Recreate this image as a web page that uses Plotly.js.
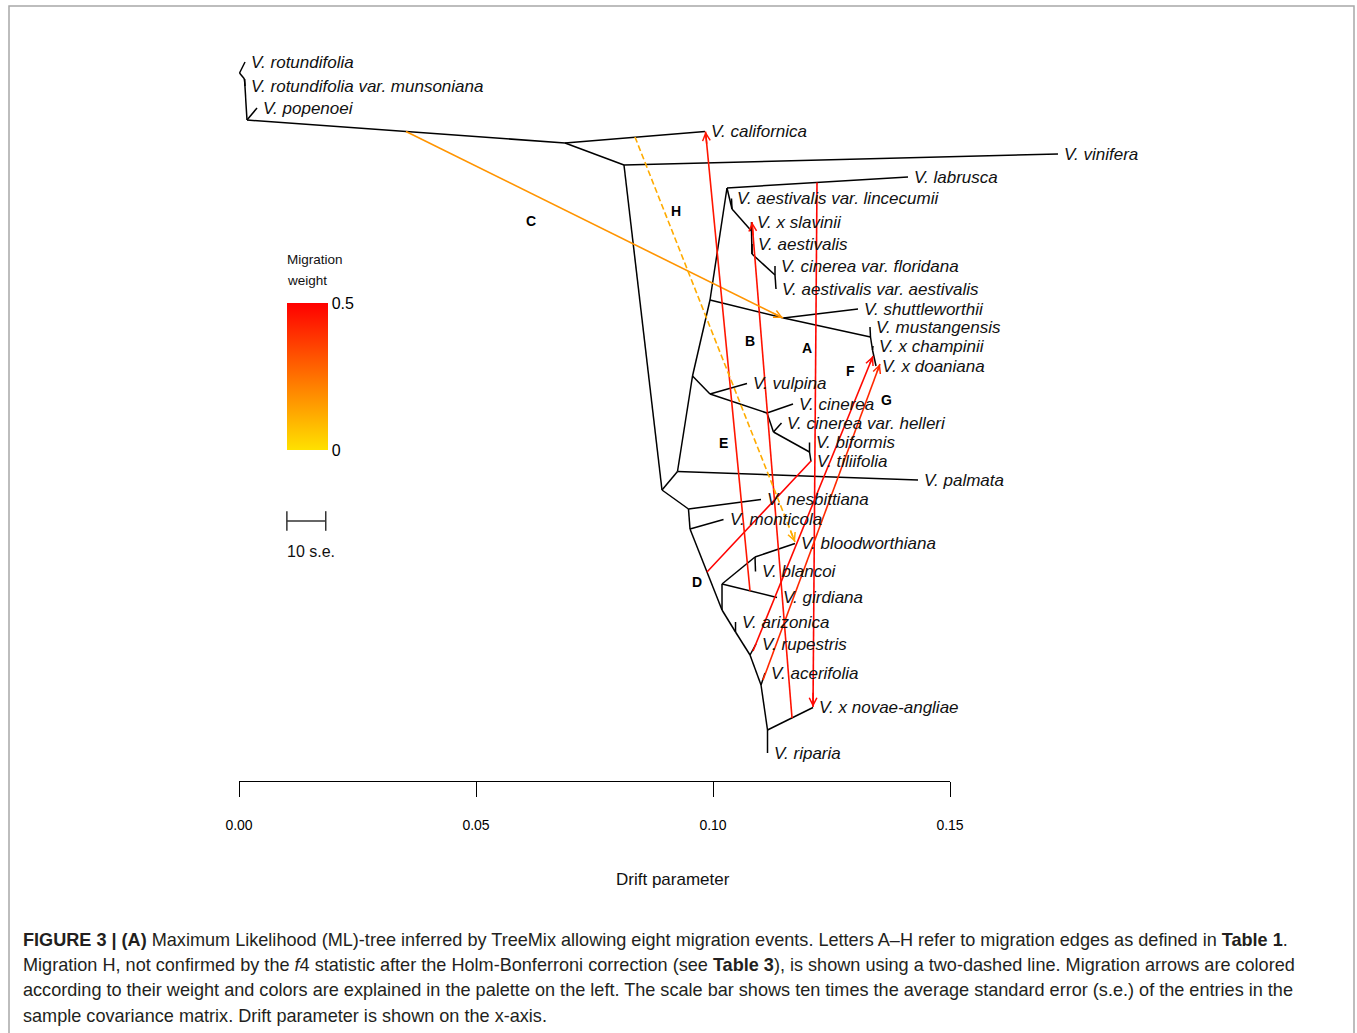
<!DOCTYPE html>
<html><head><meta charset="utf-8">
<script src="https://cdn.plot.ly/plotly-3.0.1.min.js"></script>
<style>html,body{margin:0;padding:0;background:#fff}#chart{width:1357px;height:1033px}</style>
</head><body><div id="chart"></div>
<script>
// ---------- DATA ----------
// internal tree nodes: drift (x) and vertical layout position (y)
const internalIds   = ['n1','n2','n3','root','n4','nE','nP','nV0','nS','nL','A1','A2','A3','A4','nSh','M0','M1','V1','V2','V3','V4','B0','B1','B2','B3','B4','B5','B6','B7','B8'];
const internalDrift = [0.00169,0.00116,0.00011,0.06878,0.08122,0.08924,0.09251,0.09568,0.09937,0.10295,0.10401,0.10812,0.10823,0.11308,0.11487,0.13323,0.13365,0.09937,0.11139,0.11276,0.12036,0.09483,0.09515,0.10190,0.10190,0.10886,0.10475,0.10781,0.11013,0.11150];
const internalY     = [120,79,73,143,165,490,471.5,376,300,188,209,231,254,275,318,337,350,394,413,432,452,509,529,610,584,557,632,655,685,730];

// leaves (populations)
const leafIds    = ['rotundifolia','munsoniana','popenoei','californica','vinifera','labrusca','lincecumii','slavinii','aestivalis','floridana','aestvar','shuttleworthii','mustangensis','champinii','doaniana','vulpina','cinerea','helleri','biformis','tiliifolia','palmata','nesbittiana','monticola','bloodworthiana','blancoi','girdiana','arizonica','rupestris','acerifolia','novaeangliae','riparia'];
const leafLabels = ['V. rotundifolia','V. rotundifolia var. munsoniana','V. popenoei','V. californica','V. vinifera','V. labrusca','V. aestivalis var. lincecumii','V. x slavinii','V. aestivalis','V. cinerea var. floridana','V. aestivalis var. aestivalis','V. shuttleworthii','V. mustangensis','V. x champinii','V. x doaniana','V. vulpina','V. cinerea','V. cinerea var. helleri','V. biformis','V. tiliifolia','V. palmata','V. nesbittiana','V. monticola','V. bloodworthiana','V. blancoi','V. girdiana','V. arizonica','V. rupestris','V. acerifolia','V. x novae-angliae','V. riparia'];
const leafDrift  = [0.00127,0.00127,0.0038,0.09831,0.17278,0.14114,0.10390,0.10812,0.10823,0.11308,0.11329,0.13059,0.13312,0.13376,0.13439,0.10717,0.11688,0.11445,0.12036,0.12068,0.14325,0.11013,0.10222,0.11730,0.10897,0.11350,0.10475,0.10907,0.11097,0.12110,0.11150];
const leafY      = [62,86,108,131.5,154,177,198.5,222,244,266,289,309,327,346,366,383.5,404,423,442.5,461.5,480,499.5,519.5,543.5,571.5,597.5,622,644,673,707.5,753];

// tree edges (parent -> child)
const edgeParent = ['root','n1','n1','n2','n2','n3','root','root','n4','n4','nE','nE','nP','nP','nV0','nV0','nS','nS','nL','nL','A1','A1','A2','A2','A3','A3','A4','A4','nSh','nSh','M0','M0','M1','M1','V1','V1','V2','V2','V3','V3','V4','V4','B0','B0','B1','B1','B2','B3','B4','B4','B3','B2','B5','B5','B6','B6','B7','B7','B8','B8'];
const edgeChild  = ['n1','popenoei','n2','munsoniana','n3','rotundifolia','californica','n4','vinifera','nE','nP','B0','palmata','nV0','V1','nS','nL','nSh','labrusca','A1','lincecumii','A2','slavinii','A3','aestivalis','A4','floridana','aestvar','shuttleworthii','M0','mustangensis','M1','champinii','doaniana','vulpina','V2','cinerea','V3','helleri','V4','biformis','tiliifolia','nesbittiana','B1','monticola','B2','B3','B4','bloodworthiana','blancoi','girdiana','B5','arizonica','B6','rupestris','B7','acerifolia','B8','novaeangliae','riparia'];

// migration edges
const migLetter    = ['A','B','C','D','E','F','G','H'];
const migFromDrift = [0.12194,0.11667,0.03523,0.09873,0.10781,0.10844,0.11055,0.08354];
const migFromY     = [182.5,718,131.5,572,591,651,680,137];
const migToDrift   = [0.12110,0.10823,0.11477,0.12068,0.09842,0.13376,0.13523,0.11730];
const migToY       = [707,222,318,461,131.5,356,364,542];
const migWeight    = [0.49,0.46,0.17,0.50,0.45,0.48,0.41,0.12];
const migDashed    = [false,false,false,false,false,false,false,true];
const migLabelDrift= [0.1198,0.1078,0.0616,0.0966,0.1023,0.1291,0.1367,0.0922];
const migLabelY    = [348,341,221,582,443,371,400,211];

// axis ticks and scale bar
const tickVals   = [0,0.05,0.10,0.15];
const tickLabels = ['0.00','0.05','0.10','0.15'];
const weightTicks = [0,0.5];
const weightTickLabels = ['0','0.5'];
const scaleBarStart = 0.0101, scaleBarLength = 0.0082, scaleBarY = 521;

// ---------- BUILD ----------
const W=1357,H=1033;
const FONT='Liberation Sans, Arial, Helvetica, sans-serif';
const xRange=[-239/4740,(W-239)/4740];

function weightColor(w){const t=Math.max(0,Math.min(1,w/0.5));return 'rgb(255,'+Math.round(225*(1-t))+',0)';}

const nodes={};
internalIds.forEach((id,i)=>nodes[id]={x:internalDrift[i],y:internalY[i]});
leafIds.forEach((id,i)=>nodes[id]={x:leafDrift[i],y:leafY[i]});
const tx=[],ty=[];
edgeParent.forEach((p,i)=>{const a=nodes[p],b=nodes[edgeChild[i]];tx.push(a.x,b.x,null);ty.push(a.y,b.y,null);});

const traces=[];
traces.push({type:'scatter',mode:'lines',x:tx,y:ty,line:{color:'#000',width:1.5},hoverinfo:'skip',showlegend:false});

const annotations=[];
migLetter.forEach((L,i)=>{
  const c=weightColor(migWeight[i]);
  traces.push({type:'scatter',mode:'lines',x:[migFromDrift[i],migToDrift[i]],y:[migFromY[i],migToY[i]],
    line:{color:c,width:1.6,dash:migDashed[i]?'6px,3px':'solid'},hoverinfo:'skip',showlegend:false});
  annotations.push({x:migToDrift[i],y:migToY[i],xref:'x',yref:'y',
    ax:migToDrift[i]-0.03*(migToDrift[i]-migFromDrift[i]),ay:migToY[i]-0.03*(migToY[i]-migFromY[i]),
    axref:'x',ayref:'y',text:'',showarrow:true,arrowhead:5,arrowsize:1,arrowwidth:1.5,arrowcolor:c,standoff:0,startstandoff:0});
  annotations.push({x:migLabelDrift[i],y:migLabelY[i],xref:'x',yref:'y',text:'<b>'+L+'</b>',showarrow:false,
    font:{family:FONT,size:14,color:'#000'}});
});

leafIds.forEach((id,i)=>{
  annotations.push({x:leafDrift[i],y:leafY[i],xref:'x',yref:'y',text:'<i>'+leafLabels[i]+'</i>',showarrow:false,
    xanchor:'left',yanchor:'middle',xshift:4,font:{family:FONT,size:17,color:'#111'}});
});

// scale bar
traces.push({type:'scatter',mode:'lines+markers',x:[scaleBarStart,scaleBarStart+scaleBarLength],y:[scaleBarY,scaleBarY],
  line:{color:'#333',width:1.5},marker:{symbol:'line-ns-open',size:14,line:{color:'#333',width:1.5}},hoverinfo:'skip',showlegend:false});
annotations.push({x:scaleBarStart,y:scaleBarY+30,xref:'x',yref:'y',text:'10 s.e.',showarrow:false,xanchor:'left',xshift:-2,
  font:{family:FONT,size:16,color:'#111'}});

// colour legend
traces.push({type:'scatter',mode:'markers',x:[-1,-1],y:[-500,-500],hoverinfo:'skip',showlegend:false,
  marker:{color:weightTicks,cmin:0,cmax:0.5,colorscale:[[0,weightColor(0)],[0.5,weightColor(0.25)],[1,weightColor(0.5)]],showscale:true,
    colorbar:{x:287/W,xanchor:'left',xref:'paper',y:1-376.5/H,yanchor:'middle',yref:'paper',len:147,lenmode:'pixels',
      thickness:41,thicknessmode:'pixels',xpad:0,ypad:0,outlinewidth:0,tickvals:weightTicks,ticktext:weightTickLabels,ticks:'',
      tickfont:{family:FONT,size:16,color:'#000'}}}});
annotations.push({x:287/W,y:1-259/H,xref:'paper',yref:'paper',text:'Migration',showarrow:false,xanchor:'left',yanchor:'middle',xshift:-2,font:{family:FONT,size:13.5,color:'#111'}});
annotations.push({x:287/W,y:1-281/H,xref:'paper',yref:'paper',text:'weight',showarrow:false,xanchor:'left',yanchor:'middle',xshift:-2,font:{family:FONT,size:13.5,color:'#111'}});

// axis helper trace
traces.push({type:'scatter',mode:'markers',x:[0,0.15],y:[-500,-500],xaxis:'x2',yaxis:'y',hoverinfo:'skip',showlegend:false,marker:{opacity:0}});

annotations.push({x:673/W,y:1-879/H,xref:'paper',yref:'paper',text:'Drift parameter',showarrow:false,xanchor:'center',yanchor:'middle',font:{family:FONT,size:17,color:'#111'}});

// caption
const capLines=[
 '<b>FIGURE 3 | (A)</b> Maximum Likelihood (ML)-tree inferred by TreeMix allowing eight migration events. Letters A–H refer to migration edges as defined in <b>Table 1</b>.',
 'Migration H, not confirmed by the <i>f</i>4 statistic after the Holm-Bonferroni correction (see <b>Table 3</b>), is shown using a two-dashed line. Migration arrows are colored',
 'according to their weight and colors are explained in the palette on the left. The scale bar shows ten times the average standard error (s.e.) of the entries in the',
 'sample covariance matrix. Drift parameter is shown on the x-axis.'];
const capY=[940,965,990,1016];
capLines.forEach((t,i)=>annotations.push({x:23/W,y:1-capY[i]/H,xref:'paper',yref:'paper',text:t,showarrow:false,xanchor:'left',yanchor:'middle',xshift:-2,
  font:{family:FONT,size:18.1,color:'#231f20'}}));

const layout={
  width:W,height:H,margin:{l:0,r:0,t:0,b:0},paper_bgcolor:'#fff',plot_bgcolor:'rgba(0,0,0,0)',showlegend:false,
  xaxis:{range:xRange,visible:false,domain:[0,1],fixedrange:true},
  yaxis:{range:[H,0],visible:false,domain:[0,1],fixedrange:true},
  xaxis2:{domain:[239/W,950/W],range:[0,0.15],anchor:'free',position:1-781/H,showline:true,linecolor:'#000',linewidth:1,
    ticks:'outside',ticklen:15,tickwidth:1,tickcolor:'#000',tickvals:tickVals,ticktext:tickLabels,showgrid:false,zeroline:false,
    tickfont:{family:FONT,size:14,color:'#000'},ticklabelstandoff:16,fixedrange:true},
  annotations:annotations,
  shapes:[{type:'rect',xref:'paper',yref:'paper',x0:9/W,x1:1354/W,y0:-0.02,y1:1-6/H,line:{color:'#a8a8a8',width:1.5}}]
};
Plotly.newPlot('chart',traces,layout,{displayModeBar:false,staticPlot:true});
</script></body></html>
